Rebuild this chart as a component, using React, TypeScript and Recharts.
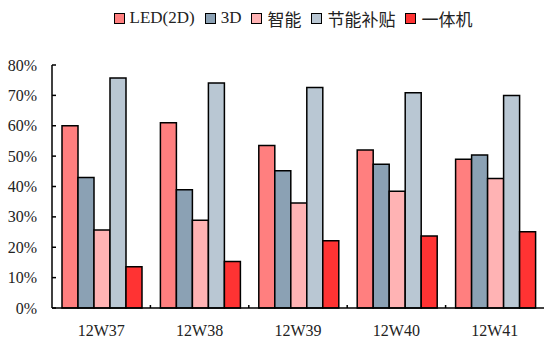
import { BarChart, Bar, XAxis, YAxis, Legend } from 'recharts'

const weeks = ['12W37', '12W38', '12W39', '12W40', '12W41']
const led2d = [60, 61, 53.5, 52, 49]
const led3d = [43, 38.9, 45.2, 47.3, 50.4]
const smart = [25.7, 28.9, 34.6, 38.4, 42.6]
const subsidy = [75.7, 74.1, 72.6, 70.9, 70]
const allInOne = [13.6, 15.3, 22.1, 23.7, 25.1]
const yTicks = [0, 10, 20, 30, 40, 50, 60, 70, 80]

const series = [
  { key: 'led2d', name: 'LED(2D)', color: '#FF7F7F' },
  { key: 'led3d', name: '3D', color: '#8BA1B4' },
  { key: 'smart', name: '智能', color: '#FFB3B4' },
  { key: 'subsidy', name: '节能补贴', color: '#B9C7D3' },
  { key: 'allInOne', name: '一体机', color: '#FF3333' },
]

const data = weeks.map((week, i) => ({
  week,
  led2d: led2d[i],
  led3d: led3d[i],
  smart: smart[i],
  subsidy: subsidy[i],
  allInOne: allInOne[i],
}))

const W = 544
const H = 340
const LEFT = 52
const FONT = '"Liberation Serif", "Noto Sans CJK SC", serif'
const band = (W - LEFT) / weeks.length

const WeekTick = (props: any) => {
  const { x, y, payload, index } = props
  const bx = x - band / 2
  return (
    <g>
      {index > 0 && <line x1={bx} x2={bx} y1={y - 3} y2={y} stroke="#000" strokeWidth={1.5} />}
      <text x={x} y={y + 28} textAnchor="middle" fontSize={16} fontFamily={FONT} fill="#222">
        {payload.value}
      </text>
    </g>
  )
}

const PctTick = (props: any) => {
  const { x, y, payload } = props
  return (
    <g>
      <line x1={x} x2={x + 4} y1={y} y2={y} stroke="#000" strokeWidth={1.5} />
      <text x={x - 15} y={y} dy="0.35em" textAnchor="end" fontSize={16} fontFamily={FONT} fill="#222">
        {payload.value}%
      </text>
    </g>
  )
}

// legend: small black-bordered swatch, then the series name
const LegendRow = () => (
  <div
    style={{
      display: 'flex',
      justifyContent: 'center',
      alignItems: 'center',
      fontFamily: FONT,
      fontSize: 17,
      color: '#222',
      paddingLeft: LEFT,
      height: 20,
    }}
  >
    {series.map((s) => (
      <div key={s.key} style={{ display: 'flex', alignItems: 'center', marginRight: 10 }}>
        <span
          style={{
            display: 'inline-block',
            width: 9,
            height: 9,
            background: s.color,
            border: '1.5px solid #000',
            marginRight: 5,
          }}
        />
        <span>{s.name}</span>
      </div>
    ))}
  </div>
)

export default function App() {
  return (
    <div style={{ width: W, height: H, background: '#fff' }}>
      <style>{'body{margin:0}'}</style>
      <BarChart
        width={W}
        height={H}
        data={data}
        margin={{ top: 45, right: 0, bottom: 0, left: 0 }}
        barCategoryGap={10}
        barGap={0}
      >
        <Legend
          verticalAlign="top"
          align="center"
          content={LegendRow}
          wrapperStyle={{ top: 8, left: 0, width: W }}
        />
        <XAxis
          dataKey="week"
          height={32}
          tickLine={false}
          tickSize={0}
          tickMargin={0}
          interval={0}
          stroke="#000"
          strokeWidth={1.5}
          tick={WeekTick}
        />
        <YAxis
          width={LEFT}
          domain={[0, 80]}
          ticks={yTicks}
          interval={0}
          tickLine={false}
          tickSize={0}
          tickMargin={0}
          stroke="#000"
          strokeWidth={1.5}
          tick={PctTick}
        />
        {series.map((s) => (
          <Bar
            key={s.key}
            dataKey={s.key}
            name={s.name}
            fill={s.color}
            stroke="#000"
            strokeWidth={1.5}
            isAnimationActive={false}
          />
        ))}
      </BarChart>
    </div>
  )
}
